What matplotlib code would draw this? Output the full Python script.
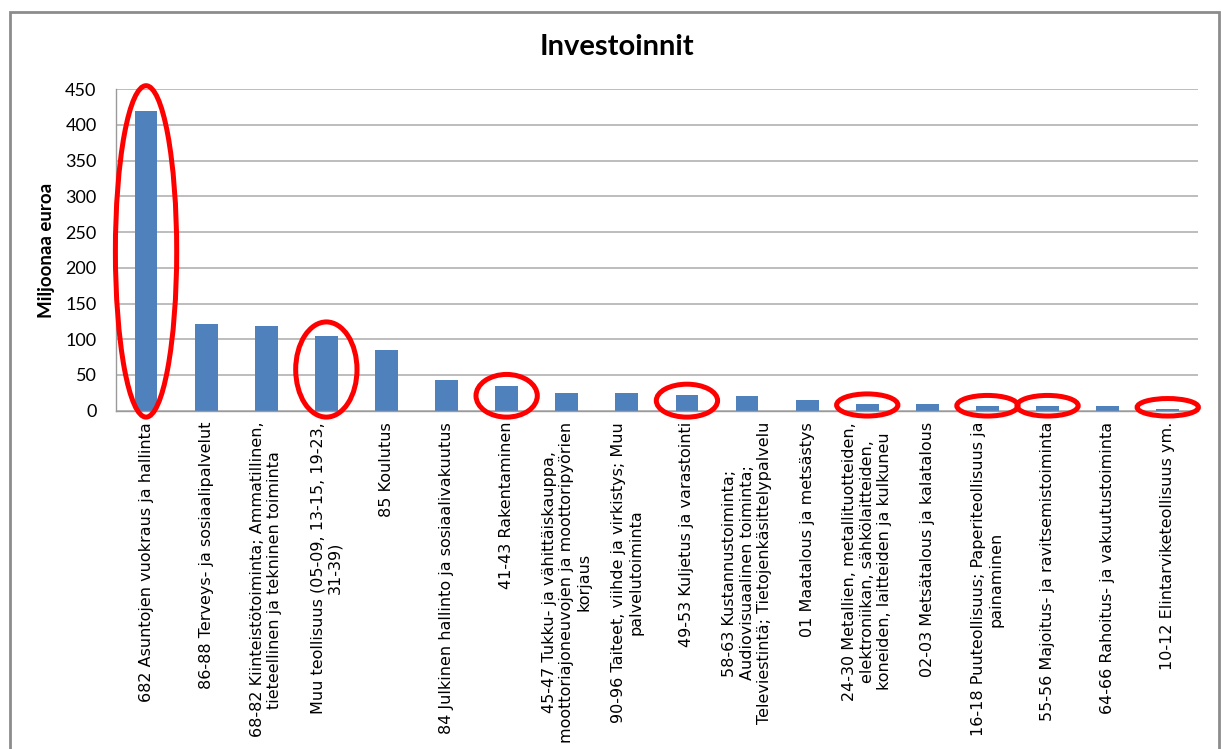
import matplotlib
matplotlib.use("Agg")
import matplotlib.pyplot as plt
from matplotlib.patches import Ellipse, Rectangle

# data
categories = [
    "682 Asuntojen vuokraus ja hallinta",
    "86-88 Terveys- ja sosiaalipalvelut",
    "68-82 Kiinteistötoiminta; Ammatillinen,\ntieteellinen ja tekninen toiminta",
    "Muu teollisuus (05-09, 13-15, 19-23,\n31-39)",
    "85 Koulutus",
    "84 Julkinen hallinto ja sosiaalivakuutus",
    "41-43 Rakentaminen",
    "45-47 Tukku- ja vähittäiskauppa,\nmoottoriajoneuvojen ja moottoripyörien\nkorjaus",
    "90-96 Taiteet, viihde ja virkistys; Muu\npalvelutoiminta",
    "49-53 Kuljetus ja varastointi",
    "58-63 Kustannustoiminta;\nAudiovisuaalinen toiminta;\nTeleviestintä; Tietojenkäsittelypalvelu",
    "01 Maatalous ja metsästys",
    "24-30 Metallien, metallituotteiden,\nelektroniikan, sähkölaitteiden,\nkoneiden, laitteiden ja kulkuneu",
    "02-03 Metsätalous ja kalatalous",
    "16-18 Puuteollisuus; Paperiteollisuus ja\npainaminen",
    "55-56 Majoitus- ja ravitsemistoiminta",
    "64-66 Rahoitus- ja vakuutustoiminta",
    "10-12 Elintarviketeollisuus ym.",
]
values = [420, 121, 118, 105, 85, 43, 35, 25, 25, 22, 20, 15, 9, 10, 7, 7, 7, 2.5]
circled = [0, 3, 6, 9, 12, 14, 15, 17]   # bars marked with red ellipses
yticks = list(range(0, 451, 50))

fig = plt.figure(figsize=(12.21, 7.49), dpi=100)
ax = fig.add_axes([0.095, 0.4517, 0.886, 0.4291])

x = list(range(len(values)))
ax.bar(x, values, width=0.38, color="#4F81BD", zorder=2)

# red hand-drawn style highlights
for i in circled:
    v = values[i]
    top = max(1.05 * v + 14, 17)
    bottom = -9 if v > 15 else -7.5
    ax.add_patch(Ellipse((i, (top + bottom) / 2), 1.02, top - bottom,
                         fill=False, edgecolor="#FF0000", lw=3.6, zorder=3,
                         clip_on=False))

ax.set_xlim(-0.5, len(values) - 0.5)
ax.set_ylim(0, 450)
ax.set_yticks(yticks)
ax.set_yticklabels([str(t) for t in yticks], family="Lato", fontsize=13)
ax.yaxis.grid(True, color="#ABABAB", lw=1.1, zorder=0)
ax.set_axisbelow(True)

ax.set_xticks(x)
ax.set_xticklabels(categories, rotation=90, family="DejaVu Sans", fontsize=11.5,
                   ha="center", va="top", multialignment="center")
ax.tick_params(axis="x", length=0, pad=8)
ax.tick_params(axis="y", length=0, pad=14)

for s in ["top", "right"]:
    ax.spines[s].set_visible(False)
for s in ["left", "bottom"]:
    ax.spines[s].set_color("#9A9A9A")
    ax.spines[s].set_linewidth(1)

ax.set_ylabel("Miljoonaa euroa", family="Lato", fontweight="bold", fontsize=13.5)
ax.yaxis.set_label_coords(-0.056, 0.5)

fig.text(0.505, 1 - 55 / 749, "Investoinnit", family="Lato", fontweight="bold",
         fontsize=21, ha="center", va="baseline")

# chart frame
fig.patches.append(Rectangle((10 / 1221, -0.01), 1209 / 1221, 1.01 - 12 / 749,
                             transform=fig.transFigure, fill=False,
                             edgecolor="#8C8C8C", lw=2))

fig.savefig("out.png", dpi=100)
